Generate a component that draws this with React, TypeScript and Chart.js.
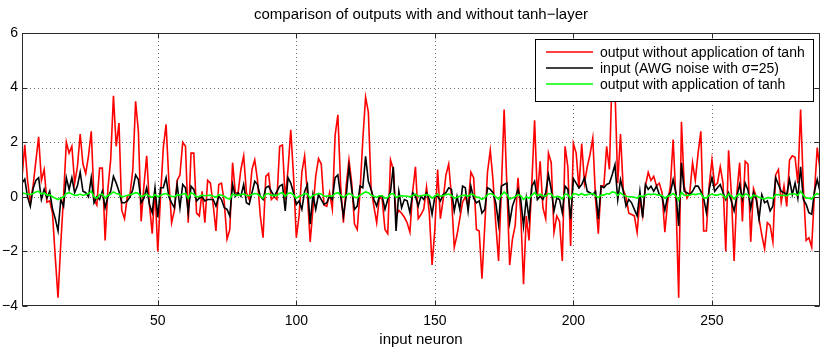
import React, { useEffect, useRef } from "react";
import { Chart, registerables } from "chart.js";

Chart.register(...registerables);

// ---------- data ----------
const redValues: number[] = [
  0.7, 1.9, 0.6, -0.2, 0.4, 1.3, 2.2, 0.6, 1.0, -0.2,
  -0.15, -0.6, -2.2, -3.7, -1.7, 0.0, 2.0, 1.6, 1.85, 0.5,
  1.1, 2.3, 1.2, 0.85, 1.5, 2.4, -0.1, -0.3, 1.05, 1.05,
  -1.6, 0.3, 1.35, 3.7, 1.85, 2.7, -0.5, -0.8, 0.0, 0.1,
  1.0, 3.5, 2.4, -0.9, 0.4, 1.5, -0.3, -1.35, 0.3, -2.0,
  0.0, 1.8, 2.65, 0.6, -0.95, -0.5, 0.6, 0.8, 2.0, 1.85,
  -0.95, 1.6, 1.6, -0.6, -0.7, 0.2, -0.95, 0.6, 0.5, -0.3,
  -1.25, 0.45, 0.5, -0.2, -1.55, -1.2, 1.25, 0.15, 0.15, 1.0,
  1.5, 0.15, -0.1, 1.0, 1.35, 0.6, -0.7, -1.5, 0.75, 0.85,
  -0.1, 0.0, -0.1, 1.85, 1.9, -0.1, 1.0, 2.45, 0.75, -1.5,
  -0.7, 0.9, 1.5, 0.1, -1.65, -0.45, 0.75, 1.4, 1.2, -0.3,
  -0.35, 0.15, -0.45, 2.25, 3.0, 0.4, -0.95, 0.4, 1.35, 0.5,
  -1.0, -1.2, 0.2, 2.1, 3.65, 3.1, 0.3, -0.35, -0.95, 0.0,
  -0.1, -1.2, -1.35, 1.35, 1.0, -0.7, -0.5, -0.6, -0.75, -0.95,
  -1.3, 0.2, 1.1, -0.8, -0.65, -0.45, 0.35, -0.6, -2.5, -1.2,
  1.0, -0.8, -0.1, 0.8, 1.2, 0.0, -1.85, -1.4, -0.8, -0.2,
  0.0, -0.35, 0.9, 0.7, -1.2, -1.25, -3.0, -1.1, 0.9, 1.7,
  0.6, -1.0, -2.35, 0.25, 3.2, 0.4, -2.5, -1.55, -1.05, 0.7,
  -0.6, -3.2, -0.7, -1.6, 0.5, 2.8, 0.0, 1.3, -0.4, -0.8,
  1.6, 1.25, -1.3, -0.7, -0.9, -2.35, 1.85, 1.1, -1.8, 1.95,
  1.6, 0.3, 1.95, 0.5, 1.1, 1.55, 2.15, -0.1, -1.35, 0.4,
  0.4, 1.85, 1.0, 4.6, 4.0, 0.5, 2.3, 0.25, 0.0, -0.6,
  -0.65, -0.7, -1.3, -0.1, -0.7, 0.4, 0.9, 0.6, 0.75, 0.4,
  0.5, 0.15, -1.3, -0.2, 0.4, 2.1, -0.1, -3.7, 2.75, 0.4,
  -0.05, 0.15, 1.25, 0.6, 1.6, 2.4, -1.25, -1.25, 0.4, 1.35,
  0.4, 0.5, 1.1, 0.5, -2.0, 1.7, 0.15, -2.35, 0.15, 1.25,
  -0.9, 1.3, 1.2, -1.65, 0.3, 0.0, -0.8, -1.4, -1.9, -0.95,
  -1.05, -1.65, 0.8, 1.0, -0.2, 0.4, -0.35, 1.35, 1.5, 1.45,
  0.5, 3.2, 0.35, -1.6, -1.5, -1.85, 0.15, 1.8, 1.0,
];

const blackValues: number[] = [
  0.5, 0.65, 0.0, -0.35, 0.3, 0.6, 0.7, -0.1, 0.27, -0.05,
  0.2, -0.45, -0.8, -1.25, -0.1, -0.35, 0.7, 0.27, 0.7, 0.15,
  0.4, 0.9, 0.2, 0.15, 0.0, 0.7, -0.22, 0.0, -0.1, 0.2,
  -0.4, 0.0, 0.2, 0.75, 0.5, 0.2, -0.22, -0.22, -0.15, 0.0,
  0.27, 0.8, 0.63, -0.22, -0.05, 0.33, -0.28, -0.58, 0.33, -0.75,
  0.33, 0.33, 0.7, 0.0, -0.22, -0.4, 0.45, -0.4, 0.45, 0.33,
  -0.58, 0.39, 0.27, -0.15, -0.05, 0.0, -0.15, -0.1, -0.1, -0.1,
  -0.34, 0.02, -0.1, -0.4, -0.46, -0.7, 0.45, 0.02, 0.15, 0.02,
  0.45, -0.22, -0.28, 0.15, 0.57, 0.45, 0.02, -0.1, 0.33, 0.39,
  0.2, 0.02, 0.2, 0.39, 0.45, -0.52, 0.7, 0.5, 0.15, -0.28,
  -0.15, -0.46, 0.2, 0.45, -1.0, 0.08, -0.46, 0.08, -0.1, -0.28,
  -0.22, 0.02, -0.1, 0.7, 0.8, 0.02, -0.7, 0.02, 1.1, 0.27,
  -0.46, -0.34, 0.39, 0.33, 1.48, 0.57, 0.27, -0.1, -0.34, 0.02,
  0.02, -0.46, -0.1, 0.2, 1.1, -1.25, 0.2, -0.4, -0.1, -0.15,
  -0.58, 0.15, 0.02, -0.34, 0.02, -0.1, 0.15, -0.1, -0.64, 0.02,
  0.02, -0.15, 0.08, 0.15, 0.33, 0.27, -0.52, 0.02, -0.46, 0.39,
  0.33, -0.52, 0.39, -0.05, -0.22, -0.15, -0.6, -0.46, 0.33, 0.27,
  0.15, -0.22, -1.0, 0.39, 0.45, 0.5, -0.95, -0.34, -0.05, 0.27,
  -0.1, -1.07, -0.05, -0.82, 0.39, 0.57, -0.1, 0.02, -0.1, 0.15,
  0.81, 0.27, -0.52, -0.05, -0.1, -0.58, 0.39, 0.27, -0.82, 0.66,
  0.5, 0.33, 0.45, 0.7, 0.2, 0.15, 0.08, 0.2, -0.82, 0.39,
  0.33, 0.45, 0.5, 0.81, 1.18, -0.1, 0.63, 0.2, -0.34, -0.1,
  -0.22, -0.46, -0.7, 0.2, -0.76, 0.45, 0.27, 0.39, 0.2, 0.39,
  0.08, 0.0, -0.5, 0.02, 0.15, 0.63, 0.15, -1.07, 1.24, 0.2,
  0.15, 0.08, 0.2, 0.39, 0.39, 0.2, -0.05, -0.58, 0.27, 0.7,
  0.2, 0.33, 0.45, 0.15, -0.1, 0.15, -0.15, -0.52, 0.02, 0.45,
  -0.1, 0.5, 0.25, -0.43, 0.15, -0.1, -0.82, 0.08, -0.22, -0.15,
  -0.52, -0.34, 0.7, 0.45, 0.2, 0.15, 0.08, 0.63, 0.08, 0.5,
  -0.05, 1.1, -0.1, -0.28, -0.58, -0.64, 0.2, 0.63, 0.2,
];

const greenValues: number[] = [
  0.15, 0.12, 0.1, 0.08, 0.12, 0.18, 0.2, 0.1, 0.14, 0.06,
  0.08, 0.0, -0.05, -0.1, -0.05, 0.0, 0.12, 0.15, 0.1, 0.05,
  0.06, 0.1, 0.05, 0.08, 0.12, 0.2, 0.0, -0.05, 0.08, 0.1,
  -0.05, 0.05, 0.1, 0.18, 0.12, 0.1, 0.0, 0.02, 0.05, 0.08,
  0.1, 0.15, 0.12, 0.0, 0.05, 0.1, 0.02, -0.02, 0.08, 0.0,
  0.05, 0.1, 0.12, 0.05, 0.02, 0.0, 0.08, 0.06, 0.1, 0.12,
  -0.05, 0.15, 0.1, 0.0, 0.02, 0.06, 0.04, 0.05, 0.06, 0.02,
  -0.02, 0.08, 0.06, 0.02, -0.05, -0.08, 0.1, 0.06, 0.05, 0.08,
  0.1, 0.06, 0.04, 0.08, 0.12, 0.1, 0.02, -0.05, 0.1, 0.12,
  0.05, 0.06, 0.05, 0.12, 0.15, 0.02, 0.12, 0.14, 0.06, -0.05,
  0.02, 0.05, 0.12, 0.1, -0.05, 0.05, 0.08, 0.12, 0.1, 0.02,
  0.02, 0.04, 0.02, 0.12, 0.15, 0.06, -0.02, 0.05, 0.12, 0.08,
  -0.02, -0.03, 0.06, 0.12, 0.18, 0.15, 0.06, 0.02, -0.02, 0.04,
  0.04, -0.05, -0.03, 0.1, 0.12, -0.02, 0.02, 0.04, 0.03, 0.02,
  0.0, 0.05, 0.1, 0.02, 0.04, 0.06, 0.08, 0.05, -0.05, 0.02,
  0.1, 0.02, 0.04, 0.08, 0.1, 0.05, -0.05, -0.02, 0.02, 0.05,
  0.06, 0.02, 0.1, 0.08, -0.02, -0.02, -0.1, -0.03, 0.08, 0.12,
  0.08, 0.0, -0.08, 0.06, 0.18, 0.08, -0.08, -0.04, 0.0, 0.08,
  0.04, -0.1, 0.0, -0.05, 0.06, 0.15, 0.04, 0.1, 0.04, 0.02,
  0.12, 0.1, -0.03, 0.02, 0.0, -0.08, 0.1, 0.08, -0.06, 0.12,
  0.1, 0.06, 0.12, 0.06, 0.08, 0.1, 0.12, 0.04, -0.03, 0.06,
  0.06, 0.12, 0.1, 0.18, 0.16, 0.05, 0.14, 0.06, 0.02, 0.0,
  0.0, -0.02, -0.05, 0.04, 0.0, 0.06, 0.1, 0.08, 0.1, 0.08,
  0.06, 0.05, -0.05, 0.02, 0.06, 0.12, 0.04, -0.12, 0.16, 0.06,
  0.05, 0.06, 0.1, 0.08, 0.1, 0.12, -0.04, -0.04, 0.06, 0.1,
  0.06, 0.06, 0.1, 0.06, -0.05, 0.1, 0.04, -0.08, 0.04, 0.1,
  0.0, 0.1, 0.08, -0.06, 0.06, 0.04, -0.02, -0.05, -0.08, -0.03,
  -0.04, -0.06, 0.08, 0.08, 0.04, 0.06, 0.04, 0.1, 0.1, 0.1,
  0.06, 0.2, 0.06, -0.05, -0.05, -0.08, 0.05, 0.12, 0.06,
];

const neuronIndex: number[] = redValues.map((_, i) => i + 1);
const xTickValues: number[] = [50, 100, 150, 200, 250];
const yTickValues: number[] = [-4, -2, 0, 2, 4, 6];
const seriesLabels: string[] = [
  "output without application of tanh",
  "input (AWG noise with \u03c3=25)",
  "output with application of tanh",
];
const seriesColors: string[] = ["#ff0000", "#000000", "#00ff00"];
const titleText = "comparison of outputs with and without tanh\u2212layer";
const xAxisTitle = "input neuron";

const FONT_FAMILY = '"Liberation Sans", Arial, Helvetica, sans-serif';
const LEGEND_FONT = `14px ${FONT_FAMILY}`;
const LABEL_FONT = `15px ${FONT_FAMILY}`;

const matlabPlugin = {
  id: "matlabDecor",
  beforeDatasetsDraw(chart: any) {
    const { ctx, chartArea: a, scales } = chart;
    const xs = scales.x;
    const ys = scales.y;
    ctx.save();
    ctx.strokeStyle = "#6e6e6e";
    ctx.lineWidth = 1;
    ctx.setLineDash([1, 3]);
    for (const t of xTickValues) {
      const px = Math.round(xs.getPixelForValue(t)) + 0.5;
      ctx.beginPath();
      ctx.moveTo(px, a.top);
      ctx.lineTo(px, a.bottom);
      ctx.stroke();
    }
    for (const t of yTickValues) {
      const py = Math.round(ys.getPixelForValue(t)) + 0.5;
      if (py <= a.top + 1 || py >= a.bottom - 1) continue;
      ctx.beginPath();
      ctx.moveTo(a.left, py);
      ctx.lineTo(a.right, py);
      ctx.stroke();
    }
    ctx.restore();
  },
  afterDatasetsDraw(chart: any) {
    const { ctx, chartArea: a, scales } = chart;
    const xs = scales.x;
    const ys = scales.y;
    ctx.save();
    ctx.setLineDash([]);
    // axes box
    ctx.strokeStyle = "#2b2b2b";
    ctx.lineWidth = 1;
    const L = Math.round(a.left) + 0.5;
    const R = Math.round(a.right) - 0.5;
    const T = Math.round(a.top) + 0.5;
    const B = Math.round(a.bottom) - 0.5;
    ctx.strokeRect(L, T, R - L, B - T);
    // inward ticks
    const tl = 5;
    ctx.beginPath();
    for (const t of xTickValues) {
      const px = Math.round(xs.getPixelForValue(t)) + 0.5;
      ctx.moveTo(px, B);
      ctx.lineTo(px, B - tl);
      ctx.moveTo(px, T);
      ctx.lineTo(px, T + tl);
    }
    for (const t of yTickValues) {
      const py = Math.round(ys.getPixelForValue(t)) + 0.5;
      ctx.moveTo(L, py);
      ctx.lineTo(L + tl, py);
      ctx.moveTo(R, py);
      ctx.lineTo(R - tl, py);
    }
    ctx.stroke();

    // legend
    const lx = 535.5;
    const ly = 39.5;
    const lw = 278;
    const lh = 62;
    ctx.fillStyle = "#ffffff";
    ctx.fillRect(lx, ly, lw, lh);
    ctx.strokeStyle = "#000000";
    ctx.strokeRect(lx, ly, lw, lh);
    ctx.font = LEGEND_FONT;
    ctx.textBaseline = "middle";
    ctx.textAlign = "left";
    const rowY = [52, 68, 84];
    for (let i = 0; i < seriesLabels.length; i++) {
      ctx.strokeStyle = seriesColors[i];
      ctx.lineWidth = 1.6;
      ctx.beginPath();
      ctx.moveTo(546, rowY[i]);
      ctx.lineTo(593, rowY[i]);
      ctx.stroke();
      ctx.fillStyle = "#000000";
      ctx.fillText(seriesLabels[i], 600, rowY[i] + 1);
    }

    // title and x-axis label
    ctx.textAlign = "center";
    ctx.fillStyle = "#000000";
    ctx.font = LABEL_FONT;
    ctx.fillText(titleText, (a.left + a.right) / 2, 15);
    ctx.fillText(xAxisTitle, (a.left + a.right) / 2, 340);
    ctx.restore();
  },
};

export default function App() {
  const canvasRef = useRef<HTMLCanvasElement | null>(null);

  useEffect(() => {
    const canvas = canvasRef.current;
    if (!canvas) return;
    const mk = (label: string, data: number[], color: string, order: number) => ({
      label,
      data: data.map((v, i) => ({ x: neuronIndex[i], y: v })),
      borderColor: color,
      backgroundColor: color,
      borderWidth: 1.6,
      pointRadius: 0,
      tension: 0,
      fill: false,
      order,
    });
    const chart = new Chart(canvas, {
      type: "line",
      data: {
        datasets: [
          mk(seriesLabels[0], redValues, seriesColors[0], 3),
          mk(seriesLabels[1], blackValues, seriesColors[1], 2),
          mk(seriesLabels[2], greenValues, seriesColors[2], 1),
        ],
      },
      options: {
        responsive: false,
        animation: false,
        devicePixelRatio: 1,
        layout: { padding: { top: 33, right: 10, left: 0, bottom: 0 } },
        plugins: {
          legend: { display: false },
          title: { display: false },
          tooltip: { enabled: false },
        },
        scales: {
          x: {
            type: "linear",
            min: 1,
            max: neuronIndex.length,
            grid: { display: false, drawTicks: false, tickLength: 0 },
            border: { display: false },
            afterBuildTicks: (scale: any) => {
              scale.ticks = xTickValues.map((v) => ({ value: v }));
            },
            afterFit: (scale: any) => {
              scale.height = 43;
            },
            ticks: {
              padding: 7,
              color: "#000000",
              font: { family: FONT_FAMILY, size: 14 },
              maxRotation: 0,
              autoSkip: false,
            },
          },
          y: {
            type: "linear",
            min: -4,
            max: 6,
            grid: { display: false, drawTicks: false, tickLength: 0 },
            border: { display: false },
            afterBuildTicks: (scale: any) => {
              scale.ticks = yTickValues.map((v) => ({ value: v }));
            },
            afterFit: (scale: any) => {
              scale.width = 22;
            },
            ticks: {
              padding: 4,
              color: "#000000",
              font: { family: FONT_FAMILY, size: 14 },
              callback: (v: any) => String(v).replace("-", "\u2212"),
            },
          },
        },
      },
      plugins: [matlabPlugin],
    } as any);
    return () => chart.destroy();
  }, []);

  return (
    <div style={{ position: "absolute", left: 0, top: 0, width: 830, height: 349, background: "#ffffff" }}>
      <canvas ref={canvasRef} width={830} height={349} style={{ width: 830, height: 349, display: "block" }} />
    </div>
  );
}
